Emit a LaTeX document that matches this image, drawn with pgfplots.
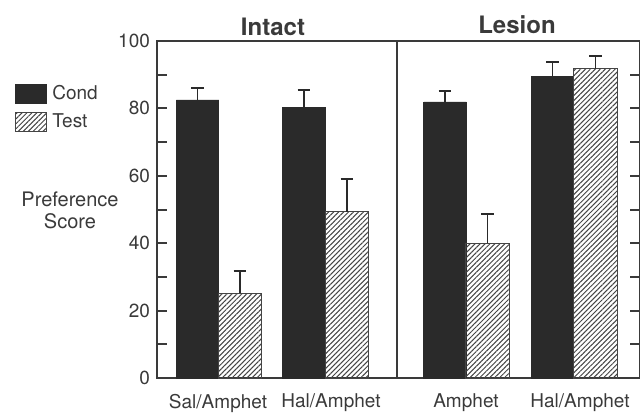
\documentclass[border=0pt]{standalone}
\usepackage{pgfplots}
\pgfplotsset{compat=1.18}
\usepackage{fontspec}
\setmainfont{TeX Gyre Heros}
\usetikzlibrary{patterns.meta}
\definecolor{barblack}{HTML}{2A2A2A}
\definecolor{txt}{HTML}{3A3A3A}
\definecolor{hatch}{HTML}{444444}
\pgfplotstableread{
x y e
197.5 82.5 3.6
304 80.4 5.1
445 81.9 3.3
552.5 89.6 4.2
}\cond
\pgfplotstableread{
x y e
240 25.2 6.5
347 49.3 9.7
487.5 40.0 8.7
595.5 91.7 3.8
}\test
\begin{document}
\begin{tikzpicture}
\begin{axis}[
  scale only axis,
  width=241.5pt, height=168.5pt,
  xmin=157, xmax=640, ymin=0, ymax=100,
  clip=false,
  axis line style={line width=1pt, color=txt},
  ybar,
  ytick={0,20,40,60,80,100},
  minor ytick={10,30,50,70,90},
  ytick pos=both, yticklabel pos=left,
  tick align=inside,
  major tick length=5pt, minor tick length=5pt,
  ytick style={line width=1pt, color=txt},
  minor tick style={line width=1pt, color=txt},
  xtick={218,331,466,580},
  xticklabels={Sal/Amphet, Hal/Amphet, Amphet, Hal/Amphet},
  xtick style={draw=none},
  xticklabel style={yshift=-4.5pt, font=\fontsize{9.5}{10}\selectfont},
  yticklabel style={font=\fontsize{9.5}{10}\selectfont},
  tick label style={text=txt},
  /pgf/number format/assume math mode=true,
  legend image code/.code={\draw[#1] (0pt,-4.75pt) rectangle (15.5pt,4.75pt);},
  legend style={at={(axis cs:15,87.4)}, anchor=north west, draw=none, fill=none,
    inner sep=0pt, row sep=4pt, font=\fontsize{9.5}{10}\selectfont, text=txt,
    nodes={inner xsep=2.5pt, inner ysep=0pt}},
  legend cell align=left,
]
\addplot[fill=barblack, draw=barblack, bar width=42.5, bar shift=0pt,
  error bars/.cd, y dir=plus, y explicit,
  error bar style={line width=0.8pt, color=barblack},
  error mark options={rotate=90, mark size=3.2pt, line width=0.8pt, color=barblack}]
  table[x=x, y=y, y error=e] {\cond};
\addlegendentry{Cond}
\addplot[pattern={Lines[angle=45, distance=1.75pt, line width=0.5pt]}, pattern color=hatch,
  draw=hatch, line width=0.5pt, bar width=43.5, bar shift=0pt,
  error bars/.cd, y dir=plus, y explicit,
  error bar style={line width=0.8pt, color=barblack},
  error mark options={rotate=90, mark size=3.2pt, line width=0.8pt, color=barblack}]
  table[x=x, y=y, y error=e] {\test};
\addlegendentry{Test}
\draw[line width=0.6pt, color=txt] (axis cs:397,0) -- (axis cs:397,100);
\node[font=\bfseries\fontsize{12}{14}\selectfont, text=txt] at (axis cs:273,104.2) {Intact};
\node[font=\bfseries\fontsize{12}{14}\selectfont, text=txt] at (axis cs:517,104.7) {Lesion};
\node[align=center, font=\fontsize{10}{11}\selectfont, text=txt] at (axis cs:70,49.6) {Preference\\Score};
\end{axis}
\pgfresetboundingbox
\path (current axis.south west) ++(-78.5pt,-17pt) rectangle ++(320pt,206pt);
\end{tikzpicture}
\end{document}
